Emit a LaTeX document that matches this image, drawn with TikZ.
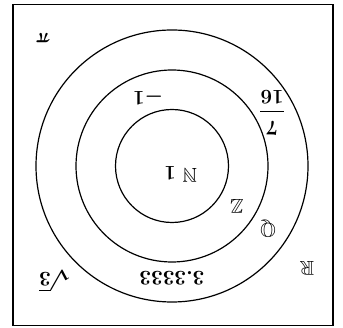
\documentclass[tikz,border=0pt]{standalone}
\usepackage{amssymb}
\begin{document}
\begin{tikzpicture}[x=1pt,y=-1pt,
  lbl/.style={rotate=180, font=\fontsize{20}{24}\selectfont\boldmath, inner sep=0pt},
  ring/.style={circle, draw, line width=1.2pt, inner sep=0pt}]
\useasboundingbox (0,0) rectangle (343,328);
\node[draw, line width=1.4pt, minimum width=320pt, minimum height=321pt, inner sep=0pt] (frame) at (173,165) {};
\node[ring, minimum size=272pt] (R) at (172,166) {};
\node[ring, minimum size=192pt] (Q) at (172,166) {};
\node[ring, minimum size=113pt] (N) at (172,166) {};
\node[lbl] (pi) at (43,38) {$\pi$};
\node[lbl] (m1) at (148,97) {$-1$};
\node[lbl] (frac) at (272,113) {$\displaystyle\frac{7}{16}$};
\node[lbl] (nn) at (190,175) {$\mathbb{N}$};
\node[lbl] (one) at (170,173) {$1$};
\node[lbl] (zz) at (237,206) {$\mathbb{Z}$};
\node[lbl] (qq) at (268,229) {$\mathbb{Q}$};
\node[lbl] (rr) at (307,268) {$\mathbb{R}$};
\node[lbl] (dec) at (172,278) {$3.3333$};
\node[lbl] (sq) at (55,281) {$\sqrt{3}$};
\end{tikzpicture}
\end{document}
